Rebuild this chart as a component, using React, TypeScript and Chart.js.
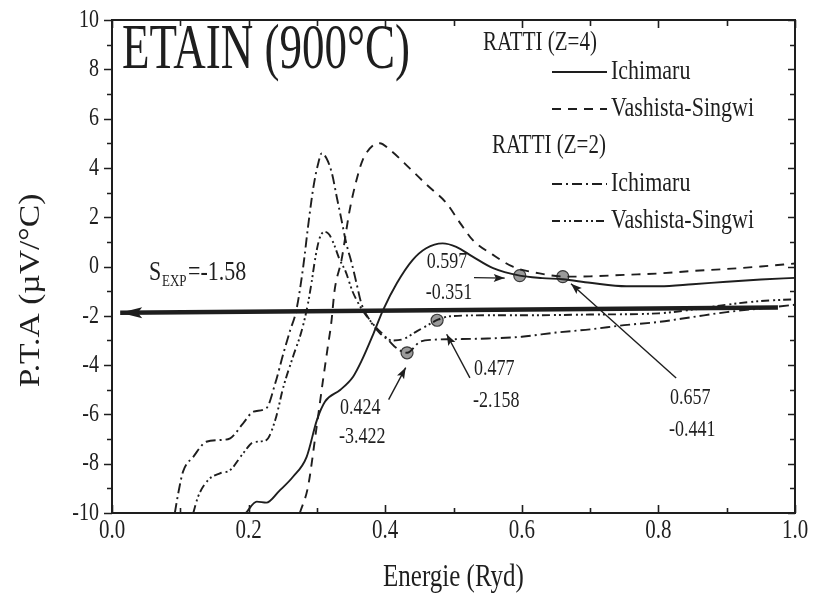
import React, { useEffect, useRef } from 'react';
import { Chart, registerables } from 'chart.js';

Chart.register(...registerables);

const FONT = '"Liberation Serif", "Times New Roman", serif';
const INK = '#1e1e1e';

// RATTI (Z=4) Ichimaru  (solid)
const z4IchimaruX = [0.196, 0.212, 0.226, 0.245, 0.265, 0.285, 0.300, 0.312, 0.334, 0.353, 0.365, 0.383, 0.397, 0.417, 0.440, 0.460, 0.484, 0.504, 0.528, 0.558, 0.597, 0.630, 0.660, 0.700, 0.753, 0.802, 0.850, 0.900, 0.950, 1.000];
const z4IchimaruY = [-10.0, -9.54, -9.58, -9.10, -8.53, -7.72, -6.23, -5.48, -5.01, -4.47, -3.85, -2.71, -1.76, -0.68, 0.26, 0.74, 0.94, 0.80, 0.40, -0.07, -0.37, -0.47, -0.52, -0.66, -0.80, -0.80, -0.72, -0.62, -0.53, -0.46];

// RATTI (Z=4) Vashista-Singwi (dashed)
const z4VashistaX = [0.275, 0.287, 0.299, 0.309, 0.316, 0.321, 0.326, 0.336, 0.348, 0.358, 0.367, 0.383, 0.392, 0.407, 0.436, 0.461, 0.490, 0.510, 0.528, 0.558, 0.587, 0.626, 0.665, 0.700, 0.750, 0.802, 0.850, 0.900, 0.950, 1.000];
const z4VashistaY = [-10.0, -8.93, -6.63, -4.60, -3.25, -2.30, -0.95, 0.26, 2.29, 3.51, 4.32, 4.93, 5.00, 4.73, 3.98, 3.31, 2.56, 1.75, 1.08, 0.47, -0.01, -0.28, -0.41, -0.40, -0.34, -0.28, -0.18, -0.10, 0.00, 0.12];

// RATTI (Z=2) Ichimaru (dash-dot)
const z2IchimaruX = [0.092, 0.097, 0.104, 0.119, 0.138, 0.158, 0.173, 0.192, 0.207, 0.226, 0.239, 0.251, 0.261, 0.270, 0.280, 0.287, 0.295, 0.302, 0.307, 0.314, 0.322, 0.329, 0.336, 0.343, 0.351, 0.358, 0.365, 0.378, 0.392, 0.405, 0.416, 0.432, 0.451, 0.470, 0.500, 0.550, 0.600, 0.650, 0.700, 0.750, 0.800, 0.850, 0.900, 0.950, 1.000];
const z2IchimaruY = [-10.0, -9.20, -8.32, -7.72, -7.11, -7.04, -6.97, -6.36, -5.89, -5.75, -4.74, -3.52, -2.58, -1.76, 0.00, 1.61, 3.24, 4.19, 4.59, 4.39, 3.78, 2.83, 1.89, 0.94, 0.13, -0.68, -1.49, -2.20, -2.70, -3.00, -3.30, -3.50, -3.05, -2.97, -2.95, -2.92, -2.85, -2.68, -2.55, -2.38, -2.25, -2.05, -1.85, -1.70, -1.55];

// RATTI (Z=2) Vashista-Singwi (dash-dot-dot)
const z2VashistaX = [0.119, 0.126, 0.141, 0.158, 0.173, 0.192, 0.207, 0.226, 0.239, 0.251, 0.265, 0.278, 0.287, 0.292, 0.298, 0.304, 0.311, 0.318, 0.325, 0.333, 0.342, 0.352, 0.365, 0.378, 0.392, 0.410, 0.426, 0.445, 0.463, 0.477, 0.495, 0.550, 0.600, 0.700, 0.800, 0.850, 0.900, 0.950, 1.000];
const z2VashistaY = [-10.0, -9.34, -8.66, -8.39, -8.26, -7.58, -7.13, -7.04, -6.23, -4.88, -3.66, -2.58, -1.49, -0.68, 0.40, 1.15, 1.41, 1.30, 0.90, 0.30, -0.20, -1.00, -1.70, -2.20, -2.62, -3.00, -2.95, -2.65, -2.37, -2.16, -2.02, -1.98, -1.98, -1.95, -1.90, -1.75, -1.55, -1.40, -1.33];

// highlighted points and their labels
const markerX = [0.432, 0.476, 0.597, 0.660];
const markerY = [-3.50, -2.18, -0.37, -0.41];
const markerTextE = ['0.424', '0.477', '0.597', '0.657'];
const markerTextS = ['-3.422', '-2.158', '-0.351', '-0.441'];
// label anchor (data units) for each marker
const labelX = [0.334, 0.530, 0.461, 0.817];
const labelY = [-5.75, -4.16, 0.18, -5.33];
const labelY2 = [-6.92, -5.46, -1.08, -6.63];
// pointer arrows: tail -> head (data units)
const arrowTailX = [0.405, 0.524, 0.530, 0.826];
const arrowTailY = [-5.40, -4.52, -0.45, -4.52];
const arrowHeadX = [0.430, 0.490, 0.575, 0.672];
const arrowHeadY = [-4.10, -2.75, -0.47, -0.70];

// experimental value arrow
const sexpX = [0.975, 0.012];
const sexpY = [-1.66, -1.88];

const xTickValues = [0, 0.2, 0.4, 0.6, 0.8, 1.0];
const xTickLabels = ['0.0', '0.2', '0.4', '0.6', '0.8', '1.0'];
const yTickValues = [10, 8, 6, 4, 2, 0, -2, -4, -6, -8, -10];
const yTickLabels = ['10', '8', '6', '4', '2', '0', '-2', '-4', '-6', '-8', '-10'];

const pts = (xs: number[], ys: number[]) => xs.map((x, i) => ({ x, y: ys[i] }));

function txt(ctx: CanvasRenderingContext2D, s: string, x: number, y: number, size: number, align: CanvasTextAlign = 'left', stretch = 1.28) {
  ctx.save();
  ctx.translate(x, y);
  ctx.scale(1, stretch);
  ctx.font = `${size}px ${FONT}`;
  ctx.textAlign = align;
  ctx.textBaseline = 'middle';
  ctx.fillStyle = INK;
  ctx.fillText(s, 0, 0);
  ctx.restore();
}

function arrowHead(ctx: CanvasRenderingContext2D, x1: number, y1: number, x2: number, y2: number, len: number, half: number) {
  const a = Math.atan2(y2 - y1, x2 - x1);
  ctx.save();
  ctx.translate(x2, y2);
  ctx.rotate(a);
  ctx.beginPath();
  ctx.moveTo(0, 0);
  ctx.lineTo(-len, half);
  ctx.lineTo(-len * 0.8, 0);
  ctx.lineTo(-len, -half);
  ctx.closePath();
  ctx.fillStyle = INK;
  ctx.fill();
  ctx.restore();
}

const decorPlugin = {
  id: 'decor',
  beforeDraw(chart: any) {
    const ctx = chart.ctx as CanvasRenderingContext2D;
    ctx.save();
    ctx.fillStyle = '#ffffff';
    ctx.fillRect(0, 0, chart.width, chart.height);
    ctx.restore();
  },
  afterDraw(chart: any) {
    const ctx = chart.ctx as CanvasRenderingContext2D;
    const xs = chart.scales.x;
    const ys = chart.scales.y;
    const { left, right, top, bottom } = chart.chartArea;
    const X = (v: number) => xs.getPixelForValue(v);
    const Y = (v: number) => ys.getPixelForValue(v);

    ctx.save();
    ctx.strokeStyle = INK;
    ctx.lineWidth = 2;
    ctx.strokeRect(left, top, right - left, bottom - top);

    // ticks
    ctx.lineWidth = 1.6;
    ctx.beginPath();
    for (let v = -10; v <= 10; v += 1) {
      const py = Math.round(Y(v)) + 0.5;
      const major = v % 2 === 0;
      ctx.moveTo(left, py); ctx.lineTo(left - (major ? 8 : 5), py);
      ctx.moveTo(right, py); ctx.lineTo(right - (major ? 7 : 5), py);
    }
    for (let i = 0; i <= 10; i++) {
      const v = i / 10;
      const px = Math.round(X(v)) + 0.5;
      const major = i % 2 === 0;
      ctx.moveTo(px, top); ctx.lineTo(px, top + (major ? 8 : 6));
      ctx.moveTo(px, bottom); ctx.lineTo(px, bottom - (major ? 8 : 5));
    }
    ctx.stroke();

    // tick labels
    xTickValues.forEach((v, i) => txt(ctx, xTickLabels[i], X(v), bottom + 18, 21, 'center'));
    yTickValues.forEach((v, i) => txt(ctx, yTickLabels[i], left - 13, Y(v), 20, 'right'));

    // axis titles
    txt(ctx, 'Energie (Ryd)', (left + right) / 2, 578, 25, 'center');
    ctx.save();
    ctx.translate(31, (top + bottom) / 2 + 24);
    ctx.rotate(-Math.PI / 2);
    ctx.scale(1.12, 1);
    ctx.font = `30px ${FONT}`;
    ctx.textAlign = 'center';
    ctx.textBaseline = 'middle';
    ctx.fillStyle = INK;
    ctx.fillText('P.T.A (\u00b5V/\u00b0C)', 0, 0);
    ctx.restore();

    // title
    txt(ctx, 'ETAIN (900\u00b0C)', 122, 51, 45, 'left', 1.4);

    // legend
    const legX0 = 552, legX1 = 607;
    const legend = [
      { y: 72, dash: [] as number[], label: 'Ichimaru' },
      { y: 109, dash: [9, 7], label: 'Vashista-Singwi' },
      { y: 184, dash: [10, 4, 2, 4], label: 'Ichimaru' },
      { y: 221, dash: [8, 4, 2, 3, 2, 3], label: 'Vashista-Singwi' },
    ];
    txt(ctx, 'RATTI (Z=4)', 483, 43, 21);
    txt(ctx, 'RATTI (Z=2)', 492, 146, 21);
    legend.forEach((l) => {
      ctx.save();
      ctx.strokeStyle = INK;
      ctx.lineWidth = 1.8;
      ctx.setLineDash(l.dash);
      ctx.beginPath();
      ctx.moveTo(legX0, l.y); ctx.lineTo(legX1, l.y);
      ctx.stroke();
      ctx.restore();
      txt(ctx, l.label, 611, l.y, 22);
    });

    // S_EXP label
    txt(ctx, 'S', 149, 273, 22);
    txt(ctx, 'EXP', 162, 282, 13);
    txt(ctx, '=-1.58', 188, 273, 22);

    // S_EXP arrow head
    arrowHead(ctx, X(sexpX[0]), Y(sexpY[0]), X(sexpX[1]), Y(sexpY[1]), 22, 5.5);

    // pointer arrows
    ctx.lineWidth = 1.4;
    ctx.strokeStyle = INK;
    for (let i = 0; i < arrowTailX.length; i++) {
      const x1 = X(arrowTailX[i]), y1 = Y(arrowTailY[i]);
      const x2 = X(arrowHeadX[i]), y2 = Y(arrowHeadY[i]);
      ctx.beginPath();
      ctx.moveTo(x1, y1); ctx.lineTo(x2, y2);
      ctx.stroke();
      arrowHead(ctx, x1, y1, x2, y2, 11, 4);
    }
    // marker labels
    for (let i = 0; i < markerTextE.length; i++) {
      txt(ctx, markerTextE[i], X(labelX[i]), Y(labelY[i]), 18);
      txt(ctx, markerTextS[i], X(labelX[i]) - 1, Y(labelY2[i]), 18);
    }
    ctx.restore();
  },
};

export default function App() {
  const ref = useRef<HTMLCanvasElement | null>(null);
  useEffect(() => {
    if (!ref.current) return;
    const line = (xs: number[], ys: number[], dash: number[]) => ({
      type: 'line' as const,
      data: pts(xs, ys),
      borderColor: INK,
      borderWidth: 1.9,
      borderDash: dash,
      pointRadius: 0,
      fill: false,
      cubicInterpolationMode: 'monotone' as const,
    });
    const chart = new Chart(ref.current, {
      type: 'line',
      data: {
        datasets: [
          line(z4IchimaruX, z4IchimaruY, []),
          line(z4VashistaX, z4VashistaY, [9, 7]),
          line(z2IchimaruX, z2IchimaruY, [10, 4, 2, 4]),
          line(z2VashistaX, z2VashistaY, [8, 4, 2, 3, 2, 3]),
          {
            type: 'line',
            data: pts(sexpX, sexpY),
            borderColor: INK,
            borderWidth: 4.5,
            pointRadius: 0,
            fill: false,
            tension: 0,
          },
          {
            type: 'scatter',
            data: pts(markerX, markerY),
            pointRadius: 6,
            pointBackgroundColor: '#9a9a9a',
            pointBorderColor: '#3a3a3a',
            pointBorderWidth: 1.2,
            showLine: false,
          } as any,
        ],
      },
      options: {
        responsive: false,
        animation: false,
        events: [],
        layout: { padding: { left: 112, top: 20, right: 18, bottom: 86 } },
        plugins: { legend: { display: false }, tooltip: { enabled: false }, title: { display: false } },
        scales: {
          x: { type: 'linear', min: 0, max: 1, display: false },
          y: { type: 'linear', min: -10, max: 10, display: false },
        },
      },
      plugins: [decorPlugin],
    });
    return () => chart.destroy();
  }, []);
  return (
    <div style={{ position: 'fixed', left: 0, top: 0, width: 813, height: 599, background: '#fff' }}>
      <canvas ref={ref} width={813} height={599} style={{ width: 813, height: 599, display: 'block' }} />
    </div>
  );
}
